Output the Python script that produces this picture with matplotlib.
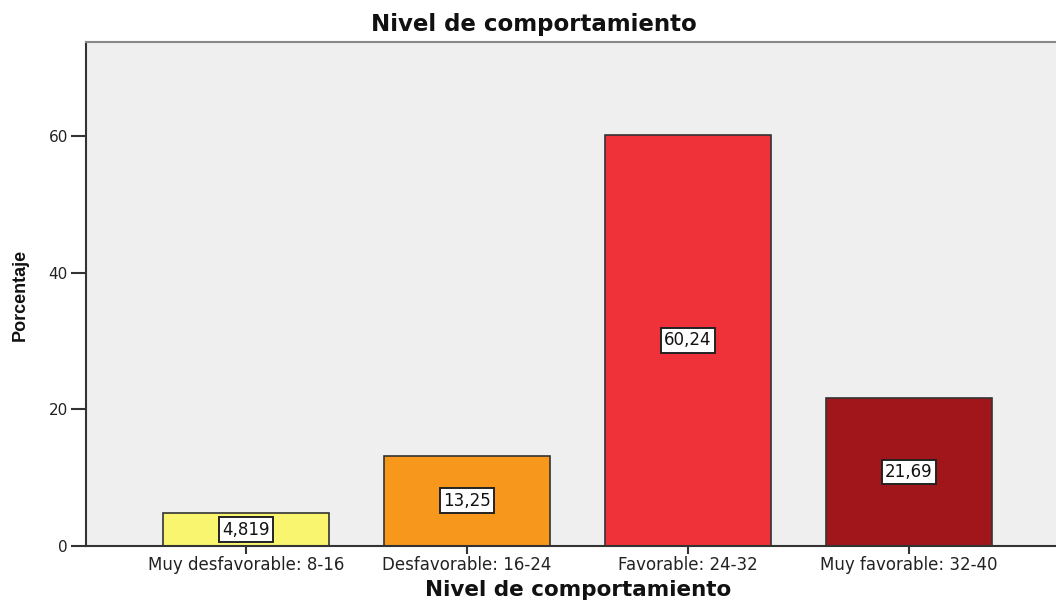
import matplotlib
matplotlib.use("Agg")
import matplotlib.pyplot as plt

categories = ["Muy desfavorable: 8-16", "Desfavorable: 16-24", "Favorable: 24-32", "Muy favorable: 32-40"]
values = [4.819, 13.25, 60.24, 21.69]
labels = ["4,819", "13,25", "60,24", "21,69"]
colors = ["#F9F56F", "#F7981D", "#EF323A", "#A1161A"]
yticks = [0, 20, 40, 60]

plt.rcParams['font.family'] = ['DejaVu Sans']

fig = plt.figure(figsize=(10.56, 6.01), dpi=100)
ax = fig.add_axes([86/1056, 1-546/601, 1-86/1056, (546-42)/601])
ax.set_facecolor("#EFEFEF")

x = list(range(len(categories)))
ax.bar(x, values, width=0.75, color=colors, edgecolor="#333333", linewidth=1.2, zorder=2)
for xi, v, lab in zip(x, values, labels):
    ax.text(xi, v/2, lab, ha="center", va="center", fontsize=12, color="#111111",
            bbox=dict(boxstyle="square,pad=0.2", fc="white", ec="#222222", lw=1.4), zorder=3)

ax.set_xlim(-0.724, 3.665)
ax.set_ylim(0, 73.8)
ax.set_yticks(yticks)
ax.set_yticklabels([str(t) for t in yticks], fontsize=11, color="#222222")
ax.set_xticks(x)
ax.set_xticklabels(categories, fontsize=12, color="#222222")
ax.tick_params(axis="y", length=11, width=1.5, color="#333333", pad=2)
ax.tick_params(axis="x", length=6, width=1.5, color="#333333", pad=1.5)

ax.spines["right"].set_visible(False)
ax.spines["top"].set_color("#888888")
ax.spines["top"].set_linewidth(1.5)
ax.spines["left"].set_color("#333333")
ax.spines["left"].set_linewidth(1.5)
ax.spines["bottom"].set_color("#333333")
ax.spines["bottom"].set_linewidth(1.5)

fig.text(534/1056, 1-25/601, "Nivel de comportamiento", ha="center", va="center",
         fontsize=16.5, fontweight="bold", color="#111111")
fig.text(578/1056, 1-596/601, "Nivel de comportamiento", ha="center", va="baseline",
         fontsize=15.5, fontweight="bold", color="#111111")
fig.text(20/1056, 1-295/601, "Porcentaje", ha="center", va="center", rotation=90,
         fontsize=13, fontweight="bold", color="#111111", family=["Liberation Sans"],
         fontstretch="condensed")

fig.savefig("out.png", dpi=100)
